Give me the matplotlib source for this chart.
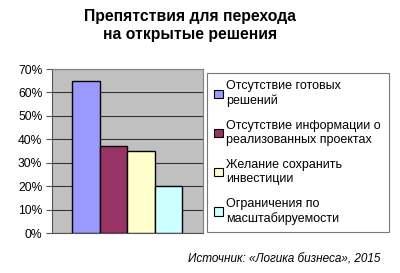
import matplotlib
matplotlib.use('Agg')
import matplotlib.pyplot as plt
from matplotlib.patches import Patch
from matplotlib.ticker import PercentFormatter

plt.rcParams['font.family'] = ['Liberation Sans', 'DejaVu Sans']

labels = ['Отсутствие готовых\nрешений',
          'Отсутствие информации о\nреализованных проектах',
          'Желание сохранить\nинвестиции',
          'Ограничения по\nмасштабируемости']
values = [65, 37, 35, 20]
colors = ['#9999FF', '#993366', '#FFFFCC', '#CCFFFF']
yticks = [0, 10, 20, 30, 40, 50, 60, 70]

W, H = 400, 273
fig = plt.figure(figsize=(W / 100, H / 100), dpi=100)
fig.patch.set_facecolor('white')

# axes in pixel coords: x 52..203, y 69..233
ax = fig.add_axes([52 / W, 1 - 233 / H, (203 - 52) / W, (233 - 69) / H])
ax.set_facecolor('#C0C0C0')
ax.bar(range(len(values)), values, width=1.0, color=colors,
       edgecolor='black', linewidth=1, zorder=3)
ax.set_xlim(-1.23, 4.26)
ax.set_ylim(0, 70)
ax.set_yticks(yticks)
ax.yaxis.set_major_formatter(PercentFormatter(decimals=0))
ax.grid(axis='y', color='#333333', linewidth=0.8, zorder=1)
ax.set_xticks([])
ax.tick_params(axis='y', labelsize=8.7, length=4, width=0.8, color='#555555', pad=3)
for side in ['top', 'right']:
    ax.spines[side].set_color('#808080')
ax.spines['left'].set_color('#555555')
ax.spines['bottom'].set_color('#555555')

fig.text(190 / W, 1 - 16 / H, 'Препятствия для перехода', ha='center', va='center',
         fontsize=11.3, fontweight='bold')
fig.text(190 / W, 1 - 35 / H, 'на открытые решения', ha='center', va='center',
         fontsize=11.3, fontweight='bold')

handles = [Patch(facecolor=c, edgecolor='black', linewidth=0.8) for c in colors]
leg = fig.legend(handles, labels, loc='upper left',
                 bbox_to_anchor=(207 / W, 1 - 73 / H), fontsize=9,
                 frameon=True, fancybox=False, edgecolor='#555555',
                 handlelength=0.65, handleheight=0.65, handletextpad=0.3,
                 labelspacing=1.05, borderpad=0.6, borderaxespad=0)
leg.get_frame().set_linewidth(0.8)

fig.text(380 / W, 1 - 259 / H, 'Источник: «Логика бизнеса», 2015', ha='right',
         va='center', fontsize=8.5, style='italic')

fig.savefig('out.png', dpi=100)
